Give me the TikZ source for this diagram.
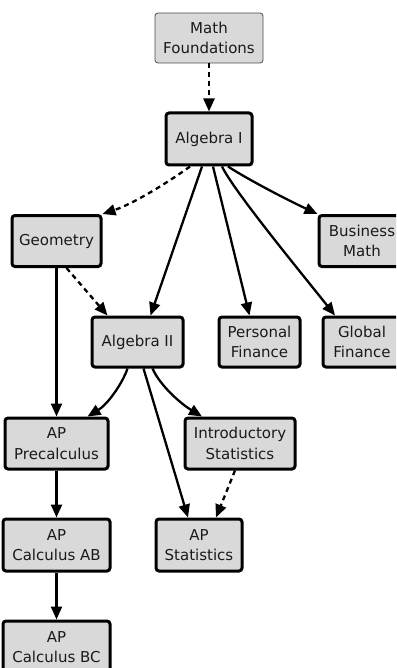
\documentclass[tikz,border=0pt]{standalone}
\usepackage{fontspec}
\setmainfont{DejaVu Sans}
\usetikzlibrary{arrows.meta}
\definecolor{boxfill}{HTML}{D9D9D9}
\definecolor{ink}{HTML}{1A1A1A}
\tikzset{
  course/.style={draw=black, fill=boxfill, line width=3pt, rounded corners=3pt,
    minimum height=51pt, align=center, inner sep=2pt, text=ink,
    font=\fontsize{15}{20.5}\selectfont},
  thinbox/.style={course, line width=0.8pt, draw=black!70},
  req/.style={line width=2.3pt, -{Triangle[length=13pt,width=11pt]}},
  opt/.style={req, dash pattern=on 5pt off 4pt},
}
\begin{document}
\begin{tikzpicture}[x=1pt,y=-1pt]
\clip (0,0) rectangle (396,668);
\fill[white] (0,0) rectangle (396,668);
\node[thinbox, minimum width=108pt, minimum height=50pt] (mf) at (209,38) {Math\\Foundations};
\node[course, minimum width=86pt, minimum height=52pt] (a1) at (209,139) {Algebra I};
\node[course, minimum width=89pt] (geo) at (56.5,241) {Geometry};
\node[course, minimum width=86pt] (bm) at (362,241) {Business\\Math};
\node[course, minimum width=91pt, minimum height=50pt] (a2) at (137.5,342) {Algebra II};
\node[course, minimum width=81pt, minimum height=50pt] (pf) at (259.5,342) {Personal\\Finance};
\node[course, minimum width=78pt, minimum height=50pt] (gf) at (362,342) {Global\\Finance};
\node[course, minimum width=103pt] (ap) at (56.5,443.5) {AP\\Precalculus};
\node[course, minimum width=110pt] (is) at (240,443.5) {Introductory\\Statistics};
\node[course, minimum width=107pt, minimum height=52pt] (ab) at (56.5,545) {AP\\Calculus AB};
\node[course, minimum width=86pt, minimum height=52pt] (as) at (199,545) {AP\\Statistics};
\node[course, minimum width=107pt, minimum height=52pt] (bc) at (56.5,647) {AP\\Calculus BC};

\draw[opt] (mf.south) -- (a1.north);
\draw[opt] ([xshift=-19pt]a1.south) .. controls +(-25,18) and +(30,-10) .. (geo.north east);
\draw[req] ([xshift=-7pt]a1.south) -- ([xshift=13pt]a2.north);
\draw[req] ([xshift=4pt]a1.south) -- ([xshift=-10pt]pf.north);
\draw[req] ([xshift=13pt]a1.south) .. controls +(12,25) and +(-30,-38) .. ([xshift=-27pt]gf.north);
\draw[req] ([xshift=19pt]a1.south) .. controls +(20,13) and +(-30,-14) .. (bm.north west);
\draw[opt] ([xshift=10pt]geo.south) -- ([xshift=-30pt]a2.north);
\draw[req] (geo.south) -- (ap.north);
\draw[req] ([xshift=-10pt]a2.south) .. controls +(-5,15) and +(20,-12) .. ([xshift=31pt]ap.north);
\draw[req] ([xshift=15pt]a2.south) .. controls +(8,18) and +(-20,-12) .. ([xshift=-38pt]is.north);
\draw[req] ([xshift=6pt]a2.south) -- ([xshift=-11pt]as.north);
\draw[opt] ([xshift=-5pt]is.south) -- ([xshift=17pt]as.north);
\draw[req] (ap.south) -- (ab.north);
\draw[req] (ab.south) -- (bc.north);
\end{tikzpicture}
\end{document}
